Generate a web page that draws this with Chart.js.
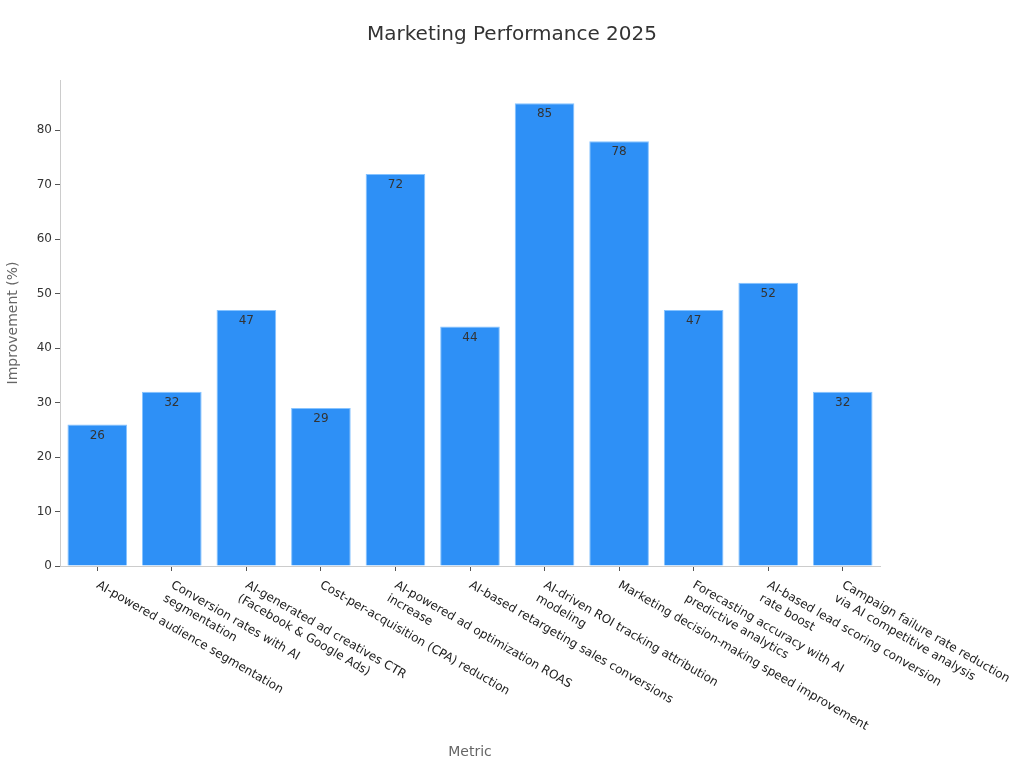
<!DOCTYPE html>
<html lang="en">
  <head>
    <meta charset="UTF-8" />
    <title>Marketing Performance 2025</title>
    <script src="https://cdn.jsdelivr.net/npm/chart.js"></script>
    <style>
      body { margin: 0; background: #fff; }
    </style>
  </head>
  <body>
    <canvas id="myChart" width="1024" height="768"></canvas>

    <script>
      // categories (one array of lines per bar)
      const metricLabels = [
        ["AI-powered audience segmentation"],
        ["Conversion rates with AI", "segmentation"],
        ["AI-generated ad creatives CTR", "(Facebook & Google Ads)"],
        ["Cost-per-acquisition (CPA) reduction"],
        ["AI-powered ad optimization ROAS", "increase"],
        ["AI-based retargeting sales conversions"],
        ["AI-driven ROI tracking attribution", "modeling"],
        ["Marketing decision-making speed improvement"],
        ["Forecasting accuracy with AI", "predictive analytics"],
        ["AI-based lead scoring conversion", "rate boost"],
        ["Campaign failure rate reduction", "via AI competitive analysis"],
      ];
      // improvement in %
      const improvementValues = [26, 32, 47, 29, 72, 44, 85, 78, 47, 52, 32];
      const yTickValues = [0, 10, 20, 30, 40, 50, 60, 70, 80];

      const FONT = "'DejaVu Sans', sans-serif";

      // value written inside the top of each bar
      const barValues = {
        id: "barValues",
        afterDatasetsDraw(chart) {
          const ctx = chart.ctx;
          const meta = chart.getDatasetMeta(0);
          ctx.save();
          ctx.font = "12px " + FONT;
          ctx.fillStyle = "#333";
          ctx.textAlign = "center";
          ctx.textBaseline = "middle";
          meta.data.forEach((bar, i) => {
            ctx.fillText(String(chart.data.datasets[0].data[i]), bar.x, bar.y + 11);
          });
          ctx.restore();
        },
      };

      // rotated x labels, starting at the tick and running down to the right
      const slantedTicks = {
        id: "slantedTicks",
        afterDraw(chart) {
          const ctx = chart.ctx;
          const xScale = chart.scales.x;
          ctx.save();
          ctx.font = "12px " + FONT;
          ctx.fillStyle = "#222";
          ctx.textAlign = "left";
          ctx.textBaseline = "top";
          xScale.ticks.forEach((t, i) => {
            const x = xScale.getPixelForTick(i);
            const lines = chart.data.labels[i];
            ctx.save();
            ctx.translate(x + 3, xScale.top + 13);
            ctx.rotate((30 * Math.PI) / 180);
            lines.forEach((line, j) => ctx.fillText(line, 0, j * 15.5));
            ctx.restore();
          });
          ctx.restore();
        },
      };

      const ctx = document.getElementById("myChart").getContext("2d");
      const chart = new Chart(ctx, {
        type: "bar",
        data: {
          labels: metricLabels,
          datasets: [
            {
              data: improvementValues,
              backgroundColor: "#2e90f6",
              borderColor: "#86c3ff",
              borderWidth: 1,
              categoryPercentage: 1.0,
              barPercentage: 0.8,
            },
          ],
        },
        options: {
          responsive: false,
          animation: false,
          plugins: {
            legend: { display: false },
            tooltip: { enabled: false },
            title: {
              display: true,
              text: "Marketing Performance 2025",
              color: "#333",
              font: { family: FONT, size: 20, weight: "normal" },
              padding: { top: 23, bottom: 33 },
            },
          },
          scales: {
            x: {
              offset: true,
              border: { color: "#ccc" },
              grid: { offset: false, drawOnChartArea: false, drawTicks: true, tickLength: 5, color: "#555" },
              ticks: { display: false },
              title: {
                display: true,
                text: "Metric",
                color: "#666",
                font: { family: FONT, size: 14 },
                padding: { top: 0, bottom: 7 },
              },
              afterFit(scale) {
                scale.height = 202;
              },
            },
            y: {
              min: 0,
              max: 89.25,
              border: { color: "#ccc" },
              grid: { drawOnChartArea: false, drawTicks: true, tickLength: 5, color: "#555" },
              ticks: {
                color: "#333",
                padding: 3,
                font: { family: FONT, size: 12 },
              },
              afterBuildTicks(scale) {
                scale.ticks = yTickValues.map((v) => ({ value: v }));
              },
              title: {
                display: true,
                text: "Improvement (%)",
                color: "#666",
                font: { family: FONT, size: 14 },
                padding: { top: 5, bottom: 0 },
              },
              afterFit(scale) {
                scale.width = 60;
              },
            },
            // empty right-hand scale that only reserves the margin
            spacer: {
              position: "right",
              grid: { display: false },
              border: { display: false },
              ticks: { display: false },
              afterFit(scale) {
                scale.width = 144;
              },
            },
          },
        },
        plugins: [barValues, slantedTicks],
      });
    </script>
  </body>
</html>
